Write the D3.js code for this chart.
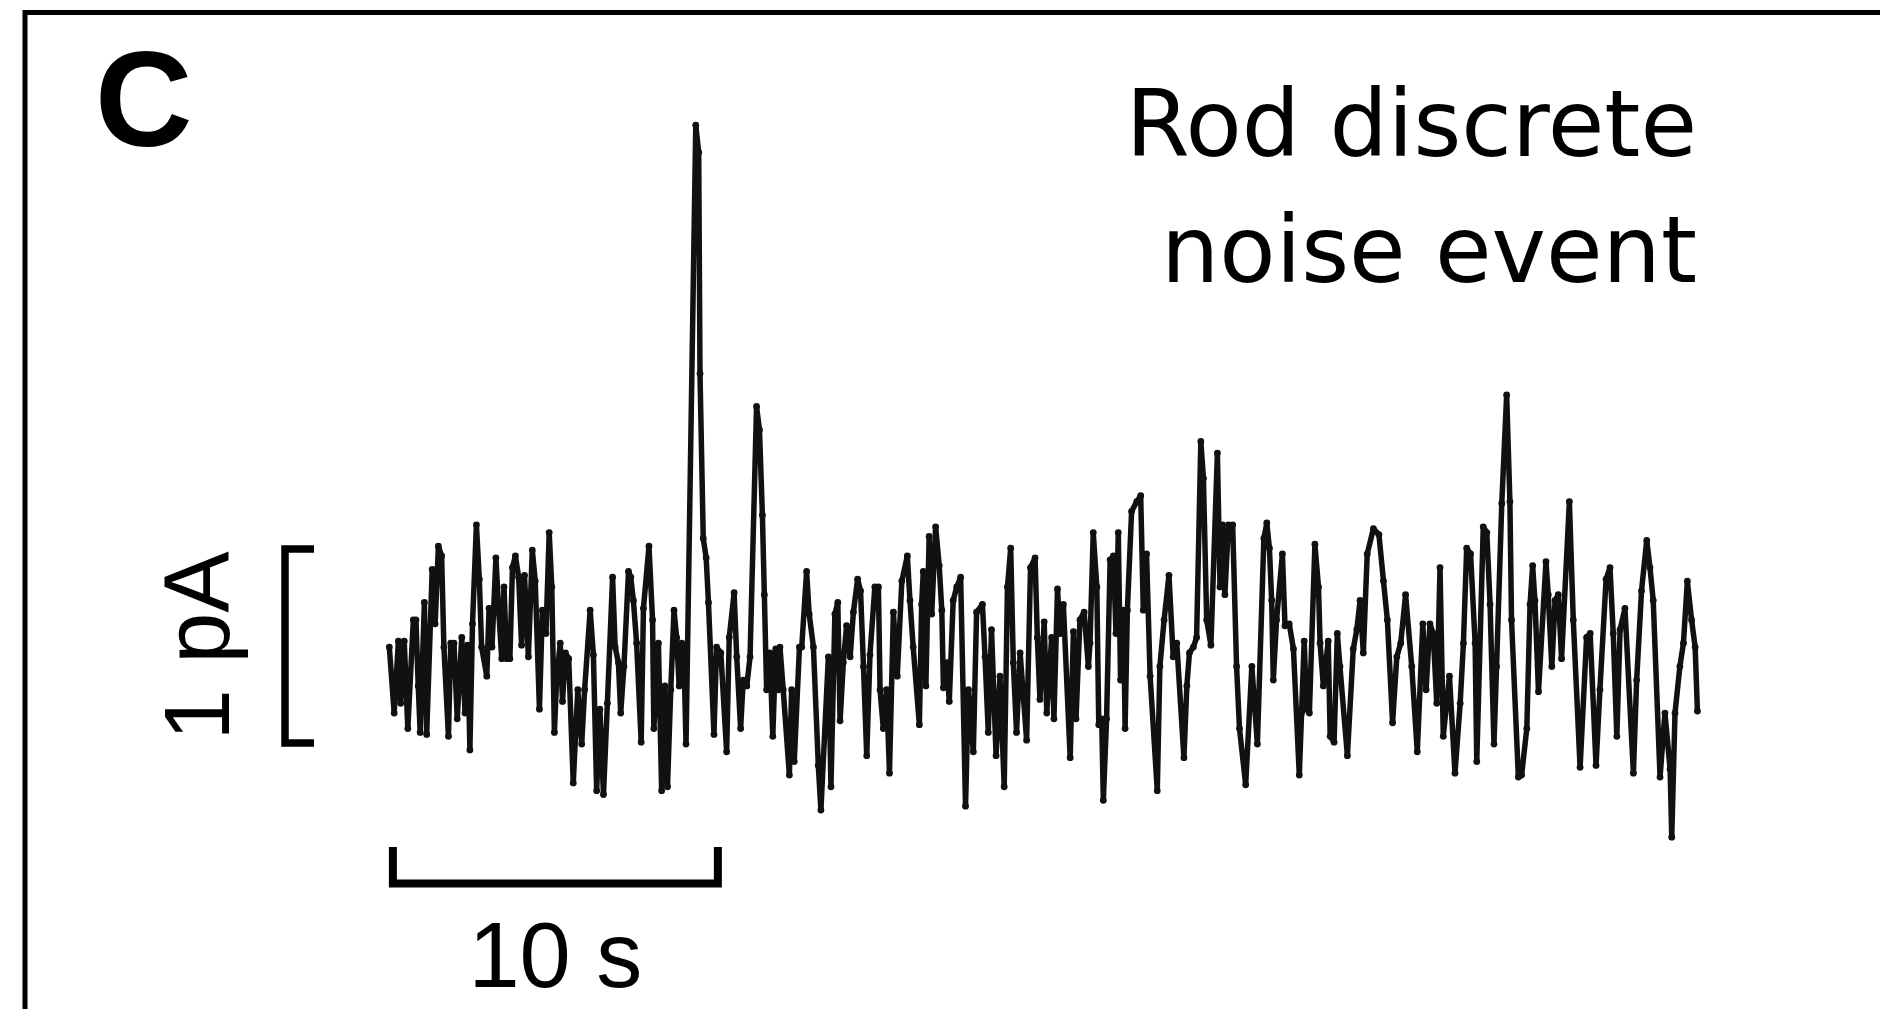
<!DOCTYPE html>
<html>
<head>
<meta charset="utf-8">
<script src="https://cdn.jsdelivr.net/npm/d3@7"></script>
<style>
  html, body { margin: 0; padding: 0; background: #fff; }
  svg { display: block; }
</style>
</head>
<body>
<svg id="chart" width="1880" height="1009"></svg>
<script>
// ---- Data ----
const panelLabel = "C";
const titleLines = ["Rod discrete", "noise event"];
const scaleBarTimeS = 10;      // horizontal scale bar, seconds
const scaleBarCurrentPA = 1;   // vertical scale bar, pA
const timeLabel = "10 s";
const currentLabel = "1 pA";

// time (s) of trace samples / turning points
const timeS = [
  0.04,0.19,0.32,0.39,0.50,0.61,0.78,0.86,0.93,0.99,1.12,1.19,1.36,1.45,1.55,1.65,1.72,1.86,1.93,2.03,2.13,2.27,2.37,2.45,2.52,2.60,2.72,2.81,2.88,3.04,3.11,3.20,3.32,3.41,3.50,3.57,3.65,3.75,3.83,3.92,4.02,4.11,4.20,4.32,4.44,4.53,4.66,4.75,4.86,4.96,5.04,5.12,5.19,5.30,5.37,5.46,5.56,5.70,5.84,5.96,6.05,6.22,6.32,6.42,6.52,
  6.63,6.75,6.91,6.99,7.09,7.16,7.26,7.40,7.47,7.55,7.65,7.79,7.86,8.03,8.14,8.18,8.32,8.42,8.52,8.60,8.70,8.80,8.88,8.96,9.04,9.11,9.17,9.47,9.56,9.60,9.70,9.79,9.86,10.03,10.11,10.24,10.42,10.50,10.65,10.73,10.85,10.93,11.04,11.14,11.34,11.43,11.52,11.58,11.65,11.75,11.84,11.93,12.01,12.06,12.16,12.35,12.42,12.50,12.66,12.73,12.88,12.96,13.09,13.24,
  13.32,13.55,13.63,13.75,13.84,13.91,14.01,14.11,14.22,14.32,14.45,14.54,14.63,14.73,14.83,14.98,15.09,15.14,15.24,15.34,15.43,15.55,15.67,15.81,15.98,16.06,16.16,16.35,16.42,16.47,16.55,16.65,16.73,16.85,16.96,17.04,17.09,17.19,17.27,17.39,17.50,17.62,17.77,17.86,18.01,18.11,18.29,18.37,18.47,18.57,18.71,18.83,18.96,19.06,19.16,19.24,19.34,19.45,19.65,19.77,19.91,19.98,20.06,
  20.19,20.27,20.42,20.49,20.60,20.68,20.78,20.99,21.09,21.17,21.29,21.42,21.55,21.60,21.70,21.81,21.87,21.96,22.01,22.11,22.22,22.32,22.40,22.47,22.54,22.63,22.68,22.75,22.88,23.04,23.16,23.24,23.34,23.45,23.67,23.75,23.88,24.03,24.16,24.27,24.49,24.58,24.66,24.78,24.88,25.01,25.09,25.19,25.32,25.52,25.60,25.68,25.75,25.86,25.99,26.11,26.20,26.39,26.58,26.75,
  26.95,27.04,27.12,27.19,27.24,27.34,27.52,27.60,27.73,27.86,28.04,28.11,28.19,28.27,28.35,28.52,28.63,28.68,28.78,28.93,28.99,29.11,29.21,29.29,29.52,29.70,29.81,29.91,30.01,30.13,30.32,30.49,30.63,30.75,30.91,31.04,31.16,31.31,31.50,31.67,31.84,31.94,32.06,32.16,32.27,32.37,32.47,32.66,32.83,32.99,33.09,33.19,33.31,33.45,33.50,
  33.70,33.81,33.91,34.03,34.11,34.27,34.42,34.52,34.57,34.78,34.88,35.04,35.14,35.22,35.29,35.40,35.63,35.70,35.81,35.91,36.01,36.11,36.35,36.47,36.68,36.88,36.99,37.17,37.29,37.48,37.60,37.70,37.81,37.91,38.06,38.32,38.42,38.57,38.73,38.83,38.93,39.14,39.29,39.45,39.50,39.60,39.75,39.86,39.98,40.11,40.22,40.29
];

// current (pA) at those times
const currentPA = [
  0.18,-0.16,0.21,-0.11,0.21,-0.24,0.32,0.32,-0.02,-0.26,0.41,-0.27,0.58,0.30,0.70,0.65,0.18,-0.28,0.20,0.20,-0.19,0.23,-0.16,0.19,-0.35,0.30,0.81,0.53,0.18,0.03,0.38,0.18,0.64,0.36,0.12,0.49,0.12,0.12,0.59,0.65,0.54,0.19,0.55,0.13,0.68,0.52,-0.14,0.37,0.25,0.77,0.49,-0.26,0.02,0.20,-0.10,0.15,0.12,-0.52,-0.04,-0.32,-0.04,0.37,0.14,-0.56,-0.14,
  -0.58,-0.11,0.54,0.18,0.10,-0.16,0.08,0.57,0.54,0.42,0.20,-0.31,0.38,0.70,0.32,-0.24,0.20,-0.56,-0.02,-0.54,-0.04,0.37,0.23,-0.02,0.20,0.10,-0.32,2.87,2.73,1.59,0.74,0.64,0.41,-0.27,0.18,0.15,-0.36,0.23,0.46,0.13,-0.24,0.01,-0.02,0.13,1.42,1.30,0.86,0.45,-0.04,0.15,-0.28,0.17,-0.04,0.18,-0.04,-0.48,-0.04,-0.41,0.18,0.18,0.57,0.35,0.18,-0.43,
  -0.66,0.13,-0.54,0.35,0.41,-0.20,0.10,0.29,0.13,0.36,0.53,0.47,0.08,-0.38,0.14,0.49,0.49,-0.04,-0.24,-0.04,-0.47,0.36,0.03,0.52,0.65,0.42,0.18,-0.22,0.40,0.57,-0.02,0.75,0.35,0.80,0.60,0.37,-0.03,0.10,-0.10,0.42,0.49,0.54,-0.64,-0.04,-0.36,0.36,0.40,0.13,-0.26,0.27,-0.38,0.03,-0.54,0.49,0.69,0.10,-0.26,0.15,-0.30,0.59,0.64,0.23,-0.09,
  0.31,-0.16,0.23,-0.19,0.48,0.25,0.40,-0.39,0.26,-0.19,0.32,0.36,0.08,0.20,0.77,0.49,-0.22,-0.19,-0.61,-0.19,0.63,0.65,0.25,0.77,0.01,0.37,-0.24,0.37,0.88,0.93,0.96,0.37,0.66,0.03,-0.56,0.08,0.32,0.55,0.13,0.20,-0.39,-0.02,0.15,0.18,0.23,1.24,1.05,0.32,0.19,1.18,0.49,0.81,0.45,0.81,0.81,0.08,-0.24,-0.53,0.08,-0.32,
  0.74,0.82,0.69,0.42,0.01,0.32,0.66,0.29,0.30,0.17,-0.48,-0.16,0.21,-0.14,-0.16,0.71,0.49,0.20,-0.02,0.21,-0.28,-0.31,0.25,0.08,-0.38,0.17,0.27,0.42,0.15,0.66,0.79,0.76,0.52,0.32,-0.21,0.13,0.20,0.45,0.08,-0.36,0.30,-0.04,0.30,0.25,-0.11,0.59,-0.28,0.03,-0.47,-0.11,0.20,0.69,0.66,0.20,-0.41,
  0.80,0.77,0.40,-0.32,0.08,0.92,1.48,0.93,0.32,-0.49,-0.48,-0.24,0.40,0.60,0.42,-0.05,0.62,0.45,0.08,0.42,0.45,0.12,0.93,0.32,-0.44,0.23,0.25,-0.43,-0.04,0.53,0.59,0.25,-0.28,0.27,0.38,-0.47,0.01,0.47,0.73,0.59,0.42,-0.49,-0.16,-0.45,-0.80,-0.16,0.08,0.20,0.52,0.32,0.18,-0.15
];

// ---- Drawing ----
const svg = d3.select("#chart");
const W = 1880, H = 1009;

svg.append("rect").attr("x", 0).attr("y", 0).attr("width", W).attr("height", H).attr("fill", "#fff");

// panel frame (extends past the right / bottom of the view)
svg.append("rect")
  .attr("x", 25).attr("y", 12.5)
  .attr("width", 2000).attr("height", 1200)
  .attr("fill", "none").attr("stroke", "#000").attr("stroke-width", 5);

// scales: 32.5 px per second, 194 px per pA
const x = d3.scaleLinear().domain([0, 40]).range([388, 388 + 40 * 32.5]);
const y = d3.scaleLinear().domain([-1, 3]).range([682 + 194, 682 - 3 * 194]);

const pts = d3.zip(timeS, currentPA);

svg.append("path")
  .datum(pts)
  .attr("fill", "none")
  .attr("stroke", "#111")
  .attr("stroke-width", 5.5)
  .attr("stroke-linejoin", "round")
  .attr("stroke-linecap", "round")
  .attr("d", d3.line().x(d => x(d[0])).y(d => y(d[1])));

// small point markers along the trace
svg.append("g")
  .selectAll("circle")
  .data(pts)
  .enter().append("circle")
  .attr("cx", d => x(d[0]))
  .attr("cy", d => y(d[1]))
  .attr("r", 3.4)
  .attr("fill", "#111");

// vertical scale bar (bracket) = 1 pA
const vb0 = -0.314, vb1 = vb0 + scaleBarCurrentPA;
const vbX = 285, vbTick = 29;
svg.append("path")
  .attr("d", `M${vbX + vbTick},${y(vb1)} H${vbX} V${y(vb0)} H${vbX + vbTick}`)
  .attr("fill", "none").attr("stroke", "#000").attr("stroke-width", 7.5)
  .attr("stroke-linejoin", "miter");

// horizontal scale bar = 10 s
const hb0 = 0.15, hb1 = hb0 + scaleBarTimeS;
const hbY = 883.5, hbTop = 847;
svg.append("path")
  .attr("d", `M${x(hb0)},${hbTop} V${hbY} H${x(hb1)} V${hbTop}`)
  .attr("fill", "none").attr("stroke", "#000").attr("stroke-width", 8)
  .attr("stroke-linejoin", "miter");

// labels
svg.append("text")
  .attr("x", 95).attr("y", 146)
  .attr("font-family", "'Liberation Sans', Arial, sans-serif")
  .attr("font-weight", "bold").attr("font-size", 135)
  .attr("fill", "#000")
  .text(panelLabel);

svg.selectAll("text.title")
  .data(titleLines)
  .enter().append("text")
  .attr("class", "title")
  .attr("x", 1697)
  .attr("y", (d, i) => 156 + i * 126)
  .attr("text-anchor", "end")
  .attr("font-family", "'DejaVu Sans', sans-serif")
  .attr("font-size", 92)
  .attr("fill", "#000")
  .text(d => d);

svg.append("text")
  .attr("transform", `translate(229,${(y(vb0) + y(vb1)) / 2}) rotate(-90)`)
  .attr("text-anchor", "middle")
  .attr("font-family", "'Liberation Sans', Arial, sans-serif")
  .attr("font-size", 92)
  .attr("fill", "#000")
  .text(currentLabel);

svg.append("text")
  .attr("x", (x(hb0) + x(hb1)) / 2).attr("y", 987)
  .attr("text-anchor", "middle")
  .attr("font-family", "'Liberation Sans', Arial, sans-serif")
  .attr("font-size", 92)
  .attr("fill", "#000")
  .text(timeLabel);
</script>
</body>
</html>
